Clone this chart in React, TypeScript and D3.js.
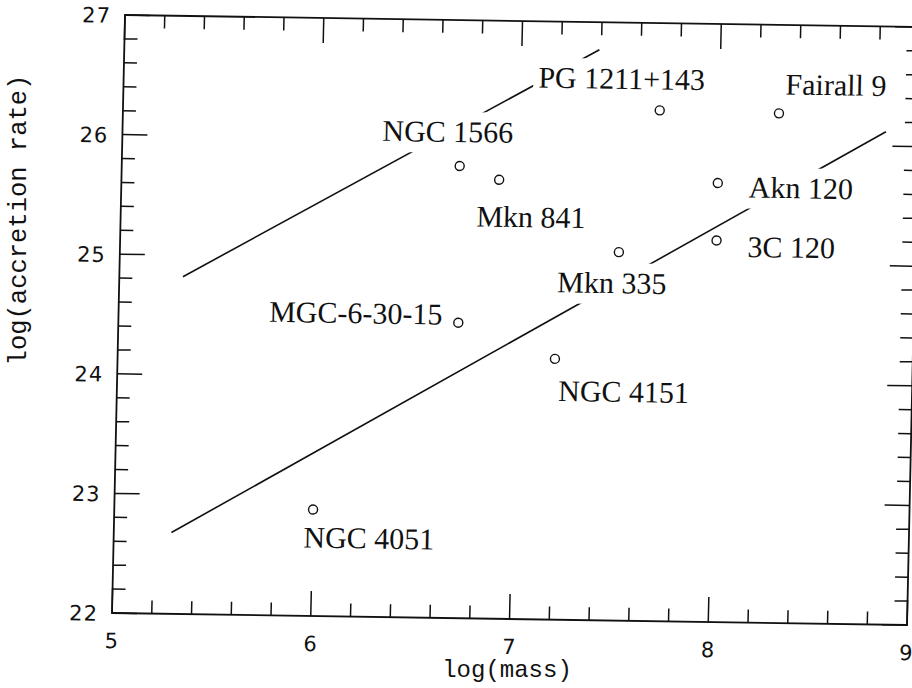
import { useEffect, useRef } from 'react';
import * as d3 from 'd3';

// objects, log(mass) and log(accretion rate)
const galaxies = ['NGC 4051', 'MGC-6-30-15', 'NGC 1566', 'Mkn 841', 'NGC 4151', 'Mkn 335', 'PG 1211+143', 'Akn 120', '3C 120', 'Fairall 9'];
const logMass = [6.0, 6.71, 6.7, 6.9, 7.2, 7.51, 7.7, 8.0, 8.0, 8.3];
const logRate = [22.89, 24.47, 25.78, 25.67, 24.18, 25.08, 26.27, 25.67, 25.19, 26.26];

// the two reference lines (start / end)
const lineMass = [[5.32, 7.39], [5.29, 8.84]];
const lineRate = [[24.82, 26.77], [22.68, 26.12]];

const xTickLabels = [5, 6, 7, 8, 9];
const yTickLabels = [22, 23, 24, 25, 26, 27];

// label placement relative to each circle, in px
const labelDx = [-9, -16, -78, -22, 4, -61, -122, 31, 31, 6];
const labelDy = [38, 2, -24, 47, 42, 41, -21, 14, 16, -19];
const labelAnchor = ['start', 'end', 'start', 'start', 'start', 'start', 'start', 'start', 'start', 'start'];

const W = 912;
const H = 688;
const plotW = 795;
const plotH = 598;
const ink = '#111';

export default function App() {
  const svgRef = useRef<SVGSVGElement>(null);

  useEffect(() => {
    if (!svgRef.current) return;
    const svg = d3.select(svgRef.current);
    svg.selectAll('*').remove();

    svg.append('rect').attr('width', W).attr('height', H).attr('fill', '#fff');

    const x = d3.scaleLinear().domain([5, 9]).range([0, plotW]);
    const y = d3.scaleLinear().domain([22, 27]).range([plotH, 0]);

    // the scanned figure is slightly skewed, so the whole frame is too
    const g = svg.append('g').attr('transform', 'matrix(1,0.0151,-0.0217,1,125,15)');

    // frame
    g.append('rect')
      .attr('width', plotW)
      .attr('height', plotH)
      .attr('fill', 'none')
      .attr('stroke', ink)
      .attr('stroke-width', 1.8);

    const isMajor = (v: number) => Math.abs(v - Math.round(v)) < 1e-6;
    const tickLen = (v: number) => (isMajor(v) ? 25 : 13);

    const ticks = g.append('g').attr('stroke', ink).attr('stroke-width', 1.5);
    x.ticks(20).forEach(v => {
      ticks.append('line').attr('x1', x(v)).attr('x2', x(v)).attr('y1', plotH).attr('y2', plotH - tickLen(v));
      ticks.append('line').attr('x1', x(v)).attr('x2', x(v)).attr('y1', 0).attr('y2', tickLen(v));
    });
    y.ticks(25).forEach(v => {
      ticks.append('line').attr('x1', 0).attr('x2', tickLen(v)).attr('y1', y(v)).attr('y2', y(v));
      ticks.append('line').attr('x1', plotW).attr('x2', plotW - tickLen(v)).attr('y1', y(v)).attr('y2', y(v));
    });

    const tickFont = "'DejaVu Sans', sans-serif";
    const lastX = xTickLabels[xTickLabels.length - 1];
    g.selectAll('.xl')
      .data(xTickLabels)
      .enter().append('text')
      // the last label sits against the page edge
      .attr('x', d => (d === lastX ? x(d) + 6 : x(d)))
      .attr('y', plotH + 35)
      .attr('text-anchor', d => (d === lastX ? 'end' : 'middle'))
      .style('font-family', tickFont)
      .style('font-size', '21px')
      .attr('fill', ink)
      .text(d => d);

    g.selectAll('.yl')
      .data(yTickLabels)
      .enter().append('text')
      .attr('x', -14)
      .attr('y', d => y(d) + 8)
      .attr('text-anchor', 'end')
      .style('font-family', tickFont)
      .style('font-size', '21px')
      .style('letter-spacing', '1px')
      .attr('fill', ink)
      .text(d => d);

    // reference lines
    const line = d3.line<[number, number]>().x(d => x(d[0])).y(d => y(d[1]));
    lineMass.forEach((m, i) => {
      g.append('path')
        .attr('d', line([[m[0], lineRate[i][0]], [m[1], lineRate[i][1]]]))
        .attr('fill', 'none')
        .attr('stroke', ink)
        .attr('stroke-width', 1.6);
    });

    // labels, knocking out the lines behind them
    const labels = g.append('g');
    galaxies.forEach((name, i) => {
      const lg = labels.append('g');
      const bg = lg.append('rect').attr('fill', '#fff');
      const t = lg.append('text')
        .attr('x', x(logMass[i]) + labelDx[i])
        .attr('y', y(logRate[i]) + labelDy[i])
        .attr('text-anchor', labelAnchor[i])
        .style('font-family', "'Liberation Serif', 'Times New Roman', serif")
        .style('font-size', '30px')
        .attr('fill', ink)
        .text(name);
      const b = (t.node() as SVGTextElement).getBBox();
      bg.attr('x', b.x - 5).attr('y', b.y - 3).attr('width', b.width + 10).attr('height', b.height + 8);
    });

    // points
    g.selectAll('.pt')
      .data(galaxies)
      .enter().append('circle')
      .attr('cx', (_, i) => x(logMass[i]))
      .attr('cy', (_, i) => y(logRate[i]))
      .attr('r', 4.5)
      .attr('fill', '#fff')
      .attr('stroke', ink)
      .attr('stroke-width', 1.4);

    // axis titles
    const titleFont = "'Liberation Mono', 'Courier New', monospace";
    svg.append('text')
      .attr('transform', 'translate(507,677)')
      .attr('text-anchor', 'middle')
      .style('font-family', titleFont)
      .style('font-size', '24px')
      .attr('fill', ink)
      .text('log(mass)');

    svg.append('text')
      .attr('transform', 'translate(26,220) rotate(-90)')
      .attr('text-anchor', 'middle')
      .style('font-family', titleFont)
      .style('font-size', '25.5px')
      .attr('fill', ink)
      .text('log(accretion rate)');
  }, []);

  return (
    <svg
      ref={svgRef}
      width={W}
      height={H}
      style={{ position: 'absolute', left: 0, top: 0, display: 'block' }}
    />
  );
}
